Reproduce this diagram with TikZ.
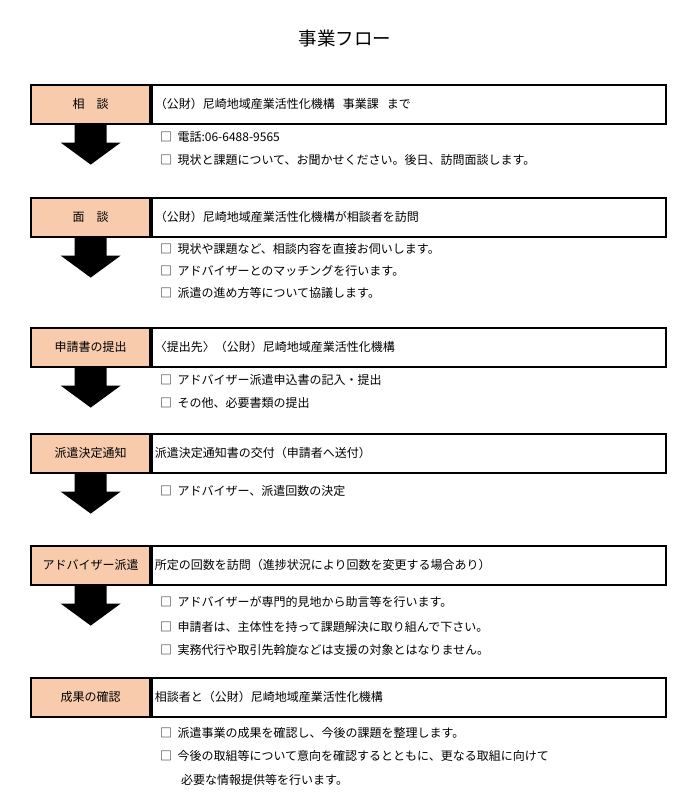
\documentclass[tikz,border=0pt]{standalone}
\usepackage{fontspec}
\setmainfont{Noto Sans CJK JP}
\usepackage{tikz}
\definecolor{peach}{RGB}{248,203,173}
\tikzset{
	stepcell/.style = {draw, line width=1.6pt, fill=peach, minimum width=119pt, minimum height=39pt, inner sep=0pt, font=\fontsize{12}{13}\selectfont},
	textcell/.style = {draw, line width=1.6pt, fill=white, minimum width=514pt, minimum height=39pt, inner sep=3pt, text width=508pt, align=left, font=\fontsize{12}{13}\selectfont},
	itemline/.style = {anchor=west, inner sep=0pt, font=\fontsize{12}{13}\selectfont},
}
\begin{document}
\begin{tikzpicture}[x=1pt, y=-1pt]
\useasboundingbox (0,0) rectangle (690,805);
%title
\node (title) at (345,38) {\fontsize{18.5}{19}\selectfont 事業フロー};
%steps: name/top y/label/text
\foreach \n/\y/\l/\t in {a/84/相\quad 談/{（公財）尼崎地域産業活性化機構\ \ 事業課\ \ まで},
		b/197/面\quad 談/{（公財）尼崎地域産業活性化機構が相談者を訪問},
		c/327/申請書の提出/{〈提出先〉（公財）尼崎地域産業活性化機構},
		d/433/派遣決定通知/{派遣決定通知書の交付（申請者へ送付）},
		e/545/アドバイザー派遣/{所定の回数を訪問（進捗状況により回数を変更する場合あり）},
		f/677/成果の確認/{相談者と（公財）尼崎地域産業活性化機構}}
{
	\node [textcell, anchor=north west] (t\n) at (151,\y) {\t};
	\node [stepcell, anchor=north east] (s\n) at (151,\y) {\l};
}
%arrows below the first five steps
\foreach \n in {a,b,c,d,e}
	\fill ([xshift=-16pt]s\n.south) -- ++(0,18) -- ++(-14,0) -- ([yshift=-40pt]s\n.south)
		-- ++(30,-22) -- ++(-14,0) -- ++(0,-18) -- cycle;
%item lines
\foreach \y/\t in {137/電話:06-6488-9565, 160/現状と課題について、お聞かせください。後日、訪問面談します。,
		249/現状や課題など、相談内容を直接お伺いします。, 271/アドバイザーとのマッチングを行います。, 293/派遣の進め方等について協議します。,
		380/アドバイザー派遣申込書の記入・提出, 403/その他、必要書類の提出,
		491/アドバイザー、派遣回数の決定,
		602/アドバイザーが専門的見地から助言等を行います。, 627/申請者は、主体性を持って課題解決に取り組んで下さい。, 650/実務代行や取引先斡旋などは支援の対象とはなりません。,
		733/派遣事業の成果を確認し、今後の課題を整理します。, 756/今後の取組等について意向を確認するとともに、更なる取組に向けて}
	\node [itemline] (i\y) at (160,\y) {□\ \ \t};
\node [itemline] (last) at (181,780) {必要な情報提供等を行います。};
\end{tikzpicture}
\end{document}
